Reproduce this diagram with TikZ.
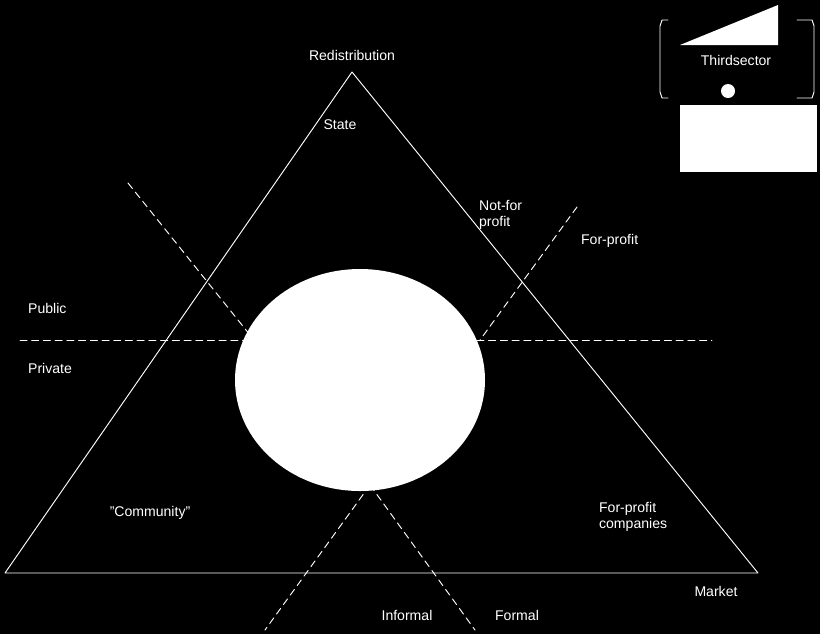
\documentclass[tikz,border=0pt]{standalone}
\usepackage{fontspec}
\setmainfont{Liberation Sans}
\begin{document}
\begin{tikzpicture}[line cap=round,line join=round,x=0.03cm,y=-0.03cm,
  lbl/.style={text=white,font=\fontsize{12}{14}\selectfont,align=left},
  dsh/.style={white,thick,dashed,dash pattern=on 6pt off 4pt}]
	\fill[black] (0,0) rectangle (820,634);
	\useasboundingbox (0,0) rectangle (820,634);
	% triangle
	\coordinate (top) at (352,72);
	\coordinate (bl) at (5,573);
	\coordinate (br) at (758,573);
	\draw[white,thick] (top) -- (br) -- (bl) -- cycle;
	% dashed dividers
	\coordinate (h1) at (20,340);
	\coordinate (h2) at (712,340);
	\coordinate (l1) at (128,183);
	\coordinate (l2) at (250,335);
	\coordinate (r1) at (577,207);
	\coordinate (r2) at (480,340);
	\coordinate (m) at (370,485);
	\coordinate (b1) at (265,630);
	\coordinate (b2) at (475,630);
	\draw[dsh] (h1) -- (h2);
	\draw[dsh] (l1) -- (l2);
	\draw[dsh] (r1) -- (r2);
	\draw[dsh] (m) -- (b1);
	\draw[dsh] (m) -- (b2);
	\fill[white] (360,380) ellipse (125 and 111);
	% labels
	\node[lbl] (redis) at (352,55) {Redistribution};
	\node[lbl] (state) at (340,125) {State};
	\node[lbl] (nfp) at (475,215) [anchor=west] {Not-for\\profit};
	\node[lbl] (fp) at (577,241) [anchor=west] {For-profit};
	\node[lbl] (pub) at (24,308) [anchor=west] {Public};
	\node[lbl] (priv) at (24,368) [anchor=west] {Private};
	\node[lbl] (comm) at (150,513) {"Community"};
	\node[lbl] (comp) at (595,517) [anchor=west] {For-profit\\companies};
	\node[lbl] (mkt) at (716,591) {Market};
	\node[lbl] (inf) at (407,615) {Informal};
	\node[lbl] (form) at (517,615) {Formal};
	% legend
	\fill[white] (680,45) -- (778,45) -- (778,5) -- cycle;
	\node[lbl] (third) at (736,60) {Thirdsector};
	\draw[white,thick] (668,20) -- (662,20) -- (660,26) -- (660,92) -- (662,98) -- (668,98);
	\draw[white,thick] (797,20) -- (812,20) -- (814,26) -- (814,92) -- (812,98) -- (797,98);
	\fill[white] (728,91) circle (7);
	\fill[white] (680,105) rectangle (817,172);
\end{tikzpicture}
\end{document}
